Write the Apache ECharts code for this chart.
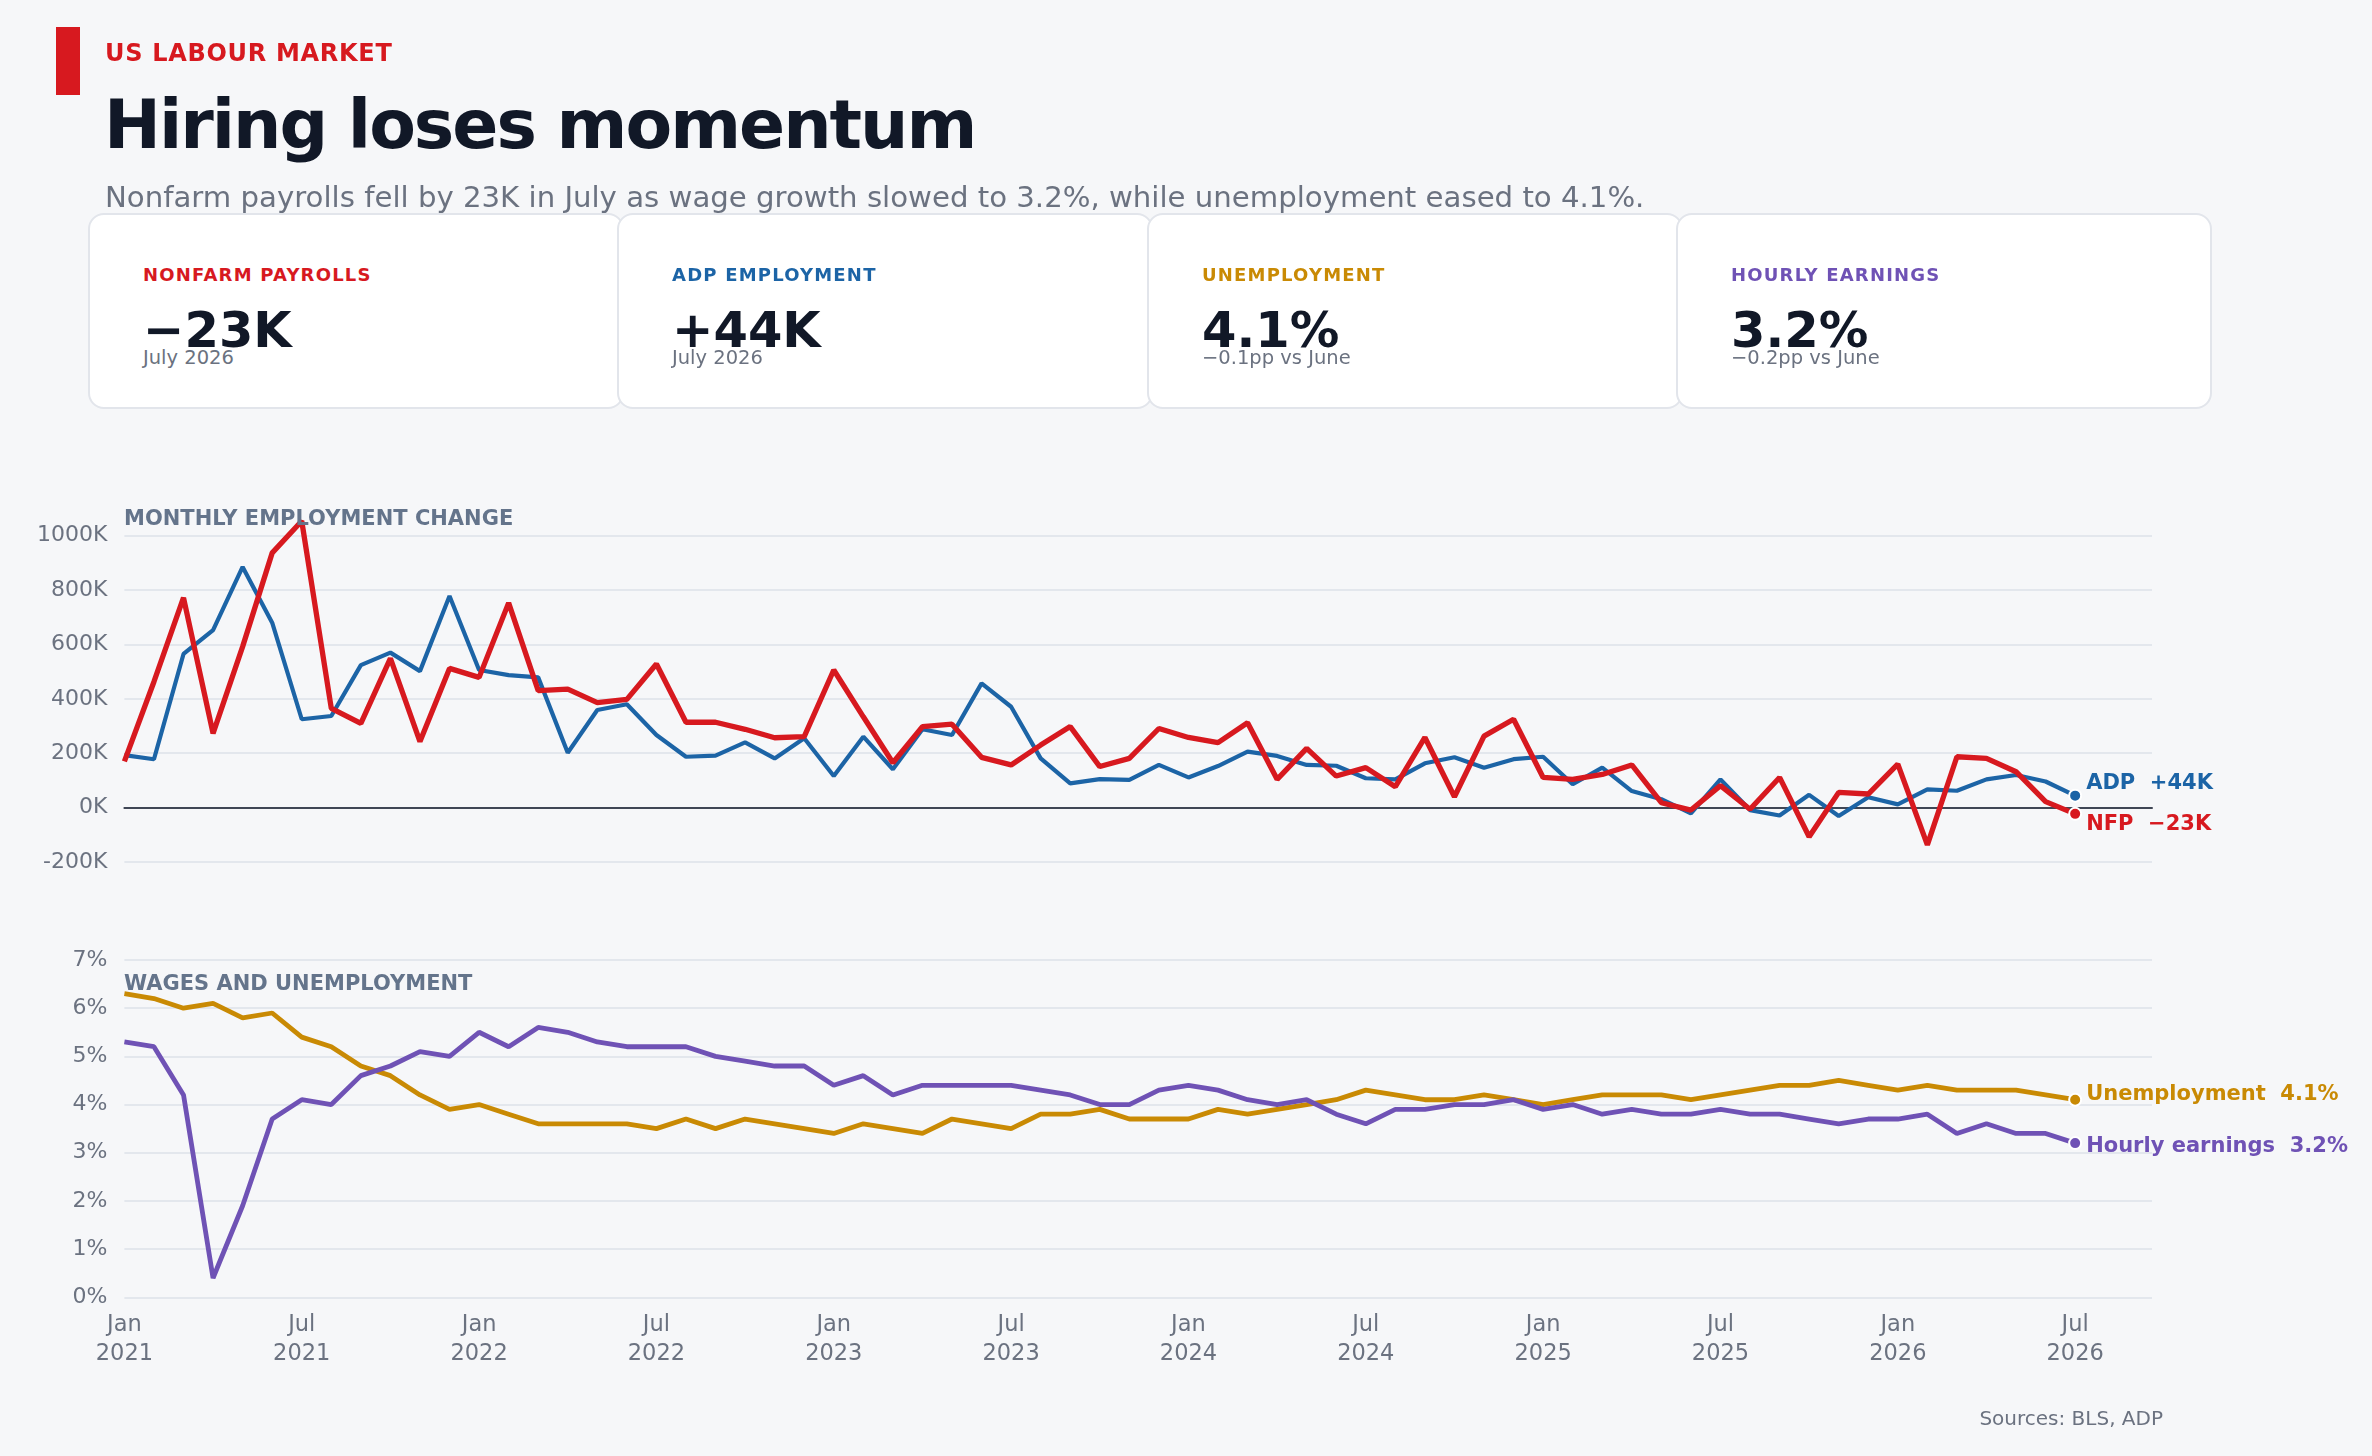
<!DOCTYPE html>
<html>
<head>
<meta charset="utf-8">
<title>Hiring loses momentum</title>
<script src="https://cdn.jsdelivr.net/npm/echarts@6.0.0/dist/echarts.min.js"></script>
<style>
  body { margin:0; background:#f6f7f9; font-family:'DejaVu Sans', sans-serif; width:2372px; height:1456px; overflow:hidden; position:relative; }
  #chart { position:absolute; left:0; top:0; width:2372px; height:1456px; }
  .abs { position:absolute; line-height:1.164; white-space:nowrap; }
  .bar { position:absolute; left:56px; top:27px; width:24px; height:68px; background:#d7191f; }
  .kicker { left:105px; top:40px; font-size:24px; font-weight:bold; color:#d7191f; letter-spacing:0.7px; }
  .title { left:104px; top:85px; font-size:68px; font-weight:bold; color:#111827; letter-spacing:-2px; }
  .subtitle { left:105px; top:180px; font-size:29.2px; color:#6b7280; }
  .card { position:absolute; top:213px; width:536px; height:196px; box-sizing:border-box; border:2px solid #e2e5eb; border-radius:16px; background:#fff; }
  .card .lab { position:absolute; left:53px; top:50px; font-size:18px; font-weight:bold; letter-spacing:1.2px; line-height:1.164; }
  .card .val { position:absolute; left:53px; top:87px; font-size:49.5px; font-weight:bold; color:#111827; line-height:1.164; }
  .card .sub { position:absolute; left:53px; top:132px; font-size:19.5px; color:#6b7280; line-height:1.164; }
  .source { right:209px; top:1407px; font-size:20px; color:#6b7280; }
</style>
</head>
<body>
<div id="chart"></div>
<div class="bar"></div>
<div class="abs kicker">US LABOUR MARKET</div>
<div class="abs title">Hiring loses momentum</div>
<div class="abs subtitle">Nonfarm payrolls fell by 23K in July as wage growth slowed to 3.2%, while unemployment eased to 4.1%.</div>

<div class="card" style="left:88px"><div class="lab" style="color:#d7191f">NONFARM PAYROLLS</div><div class="val">−23K</div><div class="sub">July 2026</div></div>
<div class="card" style="left:617px"><div class="lab" style="color:#1c64a6">ADP EMPLOYMENT</div><div class="val">+44K</div><div class="sub">July 2026</div></div>
<div class="card" style="left:1147px"><div class="lab" style="color:#c98a04">UNEMPLOYMENT</div><div class="val">4.1%</div><div class="sub">−0.1pp vs June</div></div>
<div class="card" style="left:1676px"><div class="lab" style="color:#6f52b5">HOURLY EARNINGS</div><div class="val">3.2%</div><div class="sub">−0.2pp vs June</div></div>

<div class="abs source">Sources: BLS, ADP</div>

<script>
// monthly, Jan 2021 .. Jul 2026
var xTickLabels = ['Jan\n2021', 'Jul\n2021', 'Jan\n2022', 'Jul\n2022', 'Jan\n2023', 'Jul\n2023',
                   'Jan\n2024', 'Jul\n2024', 'Jan\n2025', 'Jul\n2025', 'Jan\n2026', 'Jul\n2026'];

// thousands of jobs
var nfp = [170, 463, 772, 273, 592, 937, 1054, 365, 310, 549, 243, 512,
           479, 753, 430, 436, 386, 398, 528, 314, 314, 288, 257, 261,
           506, 334, 165, 298, 307, 185, 157, 230, 298, 151, 181, 291,
           258, 239, 312, 104, 218, 116, 147, 77, 258, 40, 263, 325,
           111, 104, 122, 157, 18, -9, 81, -6, 111, -107, 56, 50,
           160, -137, 187, 181, 132, 22, -23];
var adp = [193, 178, 565, 653, 885, 680, 325, 337, 524, 570, 502, 778,
           506, 487, 479, 202, 359, 380, 267, 187, 191, 240, 181, 255,
           116, 261, 141, 288, 267, 457, 371, 181, 89, 105, 102, 157,
           111, 153, 206, 190, 157, 154, 108, 104, 163, 185, 147, 178,
           187, 86, 147, 61, 31, -21, 104, -9, -29, 47, -31, 38,
           12, 67, 62, 104, 120, 96, 44];

// percent
var unemployment = [6.3, 6.2, 6.0, 6.1, 5.8, 5.9, 5.4, 5.2, 4.8, 4.6, 4.2, 3.9,
                    4.0, 3.8, 3.6, 3.6, 3.6, 3.6, 3.5, 3.7, 3.5, 3.7, 3.6, 3.5,
                    3.4, 3.6, 3.5, 3.4, 3.7, 3.6, 3.5, 3.8, 3.8, 3.9, 3.7, 3.7,
                    3.7, 3.9, 3.8, 3.9, 4.0, 4.1, 4.3, 4.2, 4.1, 4.1, 4.2, 4.1,
                    4.0, 4.1, 4.2, 4.2, 4.2, 4.1, 4.2, 4.3, 4.4, 4.4, 4.5, 4.4,
                    4.3, 4.4, 4.3, 4.3, 4.3, 4.2, 4.1];
var earnings = [5.3, 5.2, 4.2, 0.4, 1.9, 3.7, 4.1, 4.0, 4.6, 4.8, 5.1, 5.0,
                5.5, 5.2, 5.6, 5.5, 5.3, 5.2, 5.2, 5.2, 5.0, 4.9, 4.8, 4.8,
                4.4, 4.6, 4.2, 4.4, 4.4, 4.4, 4.4, 4.3, 4.2, 4.0, 4.0, 4.3,
                4.4, 4.3, 4.1, 4.0, 4.1, 3.8, 3.6, 3.9, 3.9, 4.0, 4.0, 4.1,
                3.9, 4.0, 3.8, 3.9, 3.8, 3.8, 3.9, 3.8, 3.8, 3.7, 3.6, 3.7,
                3.7, 3.8, 3.4, 3.6, 3.4, 3.4, 3.2];

var RED = '#d7191f', BLUE = '#1c64a6', GOLD = '#c98a04', PURPLE = '#6f52b5';
var GREY = '#6b7280', GRID = '#e3e7ed';
var FONT = 'DejaVu Sans';

function pairs(arr) {
    return arr.map(function (v, i) { return [i, v]; });
}
function lastDot(v, p) {
    return p.dataIndex === nfp.length - 1 ? 'circle' : 'none';
}
function signedK(v) {
    return (v < 0 ? '−' + Math.abs(v) : '+' + v) + 'K';
}
function lineSeries(name, arr, color, width, axis, labelText, dy) {
    return {
        name: name,
        type: 'line',
        xAxisIndex: axis, yAxisIndex: axis,
        data: pairs(arr),
        clip: false,
        showSymbol: true, showAllSymbol: true,
        symbol: lastDot, symbolSize: 12,
        itemStyle: { color: color, borderColor: '#ffffff', borderWidth: 2 },
        lineStyle: { color: color, width: width },
        endLabel: {
            show: true, distance: 11, offset: [0, dy],
            formatter: labelText,
            color: color, fontFamily: FONT, fontWeight: 'bold', fontSize: 21
        },
        emphasis: { disabled: true },
        silent: true
    };
}

var chart = echarts.init(document.getElementById('chart'));
chart.setOption({
    animation: false,
    textStyle: { fontFamily: FONT },
    title: [
        { text: 'MONTHLY EMPLOYMENT CHANGE', left: 119, top: 504,
          textStyle: { fontFamily: FONT, fontSize: 21, fontWeight: 'bold', color: '#64748b' } },
        { text: 'WAGES AND UNEMPLOYMENT', left: 119, top: 969,
          textStyle: { fontFamily: FONT, fontSize: 21, fontWeight: 'bold', color: '#64748b' } }
    ],
    grid: [
        { left: 124.4, right: 220, top: 535.7, bottom: 594 },
        { left: 124.4, right: 220, top: 960, bottom: 158.7 }
    ],
    xAxis: [
        { type: 'value', gridIndex: 0, min: 0, max: 68.6, interval: 6,
          axisLabel: { show: false }, axisTick: { show: false }, splitLine: { show: false },
          axisLine: { show: true, onZero: true, lineStyle: { color: '#3f4655', width: 2 } } },
        { type: 'value', gridIndex: 1, min: 0, max: 68.6, interval: 6,
          axisTick: { show: false }, splitLine: { show: false }, axisLine: { show: false },
          axisLabel: {
              color: GREY, fontSize: 22.5, lineHeight: 29, margin: 13, fontFamily: FONT,
              formatter: function (v) { return v % 6 === 0 ? (xTickLabels[v / 6] || '') : ''; }
          } }
    ],
    yAxis: [
        { type: 'value', gridIndex: 0, min: -200, max: 1000, interval: 200,
          axisLine: { show: false }, axisTick: { show: false },
          axisLabel: { formatter: function (v) { return v + 'K'; }, color: GREY, fontSize: 22, margin: 17, fontFamily: FONT },
          splitLine: { lineStyle: { color: GRID, width: 2 } } },
        { type: 'value', gridIndex: 1, min: 0, max: 7, interval: 1,
          axisLine: { show: false }, axisTick: { show: false },
          axisLabel: { formatter: function (v) { return v + '%'; }, color: GREY, fontSize: 22, margin: 17, fontFamily: FONT },
          splitLine: { lineStyle: { color: GRID, width: 2 } } }
    ],
    series: [
        lineSeries('ADP', adp, BLUE, 4.2, 0, function (p) { return 'ADP  ' + signedK(p.value[1]); }, -12),
        lineSeries('NFP', nfp, RED, 5.3, 0, function (p) { return 'NFP  ' + signedK(p.value[1]); }, 11),
        lineSeries('Unemployment', unemployment, GOLD, 4.8, 1, function (p) { return 'Unemployment  ' + p.value[1].toFixed(1) + '%'; }, -5),
        lineSeries('Hourly earnings', earnings, PURPLE, 4.8, 1, function (p) { return 'Hourly earnings  ' + p.value[1].toFixed(1) + '%'; }, 3)
    ]
});
</script>
</body>
</html>
